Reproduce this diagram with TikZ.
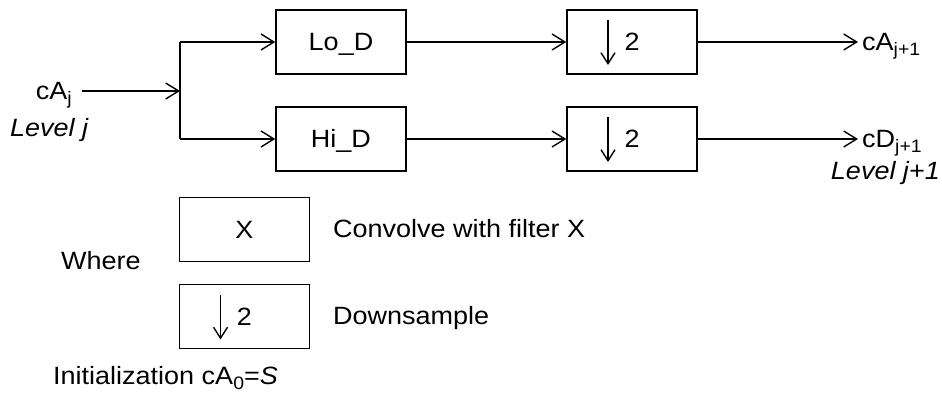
\documentclass[tikz,border=0pt]{standalone}
\usepackage{fontspec}
\setmainfont{Liberation Sans}[FakeStretch=1.08]
\usepackage{tikz}
\usetikzlibrary{positioning}
\usetikzlibrary{arrows.meta}
\def\mylinecol{black}
\newcommand\idx[1]{\raisebox{-5pt}{\fontsize{18}{20}\selectfont #1}}

\begin{document}
\begin{tikzpicture}[x=1pt,y=-1pt,scale=1.,
  font=\fontsize{25}{30}\selectfont,
  blockbox/.style={draw=\mylinecol, line width=1.4pt, minimum width=130pt, minimum height=64pt, inner sep=0pt, text height=18pt, text depth=0pt},
  downbox/.style={blockbox, path picture={\draw[line width=1.4pt, \mylinecol, -{Straight Barb[length=11pt,width=14pt]}] ([shift={(41pt,-10pt)}]path picture bounding box.north west) -- ++(0pt,-45pt);}},
  flow/.style={line width=1.4pt, \mylinecol, -{Straight Barb[length=13pt,width=16pt]}},
  txt/.style={inner sep=0pt}]
\useasboundingbox (0,0) rectangle (942,398);
% filter bank
\node[blockbox] (lod) at (341,42) {Lo\_D};
\node[blockbox] (hid) at (341,139) {Hi\_D};
\node[downbox] (dslo) at (632,42) {2};
\node[downbox] (dshi) at (632,139) {2};
\coordinate (brn) at (180,91);
\node[txt, anchor=base east, inner xsep=10pt] (inp) at (82,100) {cA\idx{j}};
\node[txt, anchor=base west] (lvlj) at (10,137) {\textit{Level j}};
\node[txt, anchor=base west, inner xsep=4pt] (outa) at (858,51) {cA\idx{j+1}};
\node[txt, anchor=base west, inner xsep=4pt] (outd) at (858,148) {cD\idx{j+1}};
\node[txt, anchor=base east] (lvlj1) at (940,180) {\textit{Level j+1}};
\draw[flow] (inp.east |- brn) -- (brn);
\draw[line width=1.4pt, \mylinecol] (brn |- lod) -- (brn |- hid);
\draw[flow] (brn |- lod) -- (lod);
\draw[flow] (brn |- hid) -- (hid);
\draw[flow] (lod) -- (dslo);
\draw[flow] (hid) -- (dshi);
\draw[flow] (dslo) -- (outa.west |- dslo);
\draw[flow] (dshi) -- (outd.west |- dshi);
% legend
\node[blockbox] (legx) at (244.5,229.5) {X};
\node[downbox] (legd) at (244.5,316.5) {2};
\node[txt, anchor=base west] (where) at (61,269) {Where};
\node[txt, anchor=base west] (convx) at (333,237) {Convolve with filter X};
\node[txt, anchor=base west] (dsamp) at (333,324) {Downsample};
\node[txt, anchor=base west] (init) at (53,384) {Initialization cA\idx{0}=\textit{S}};
\end{tikzpicture}
\end{document}
